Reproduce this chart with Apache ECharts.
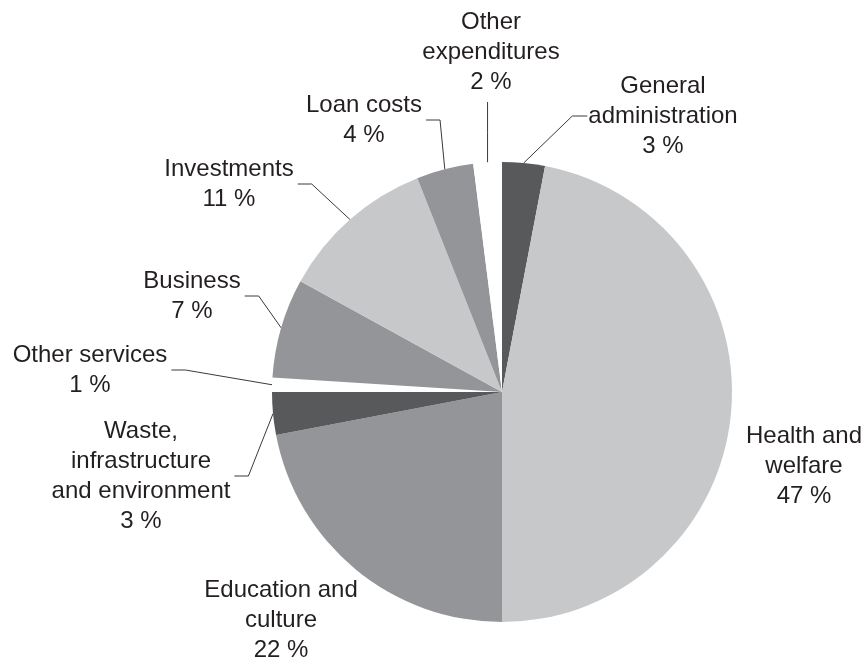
<!DOCTYPE html>
<html>
<head>
<meta charset="utf-8">
<script src="https://cdn.jsdelivr.net/npm/echarts@6/dist/echarts.min.js"></script>
<style>
  html, body { margin: 0; padding: 0; background: #ffffff; }
  #chart { width: 866px; height: 663px; }
</style>
</head>
<body>
<div id="chart"></div>
<script>
// Expenditure shares, clockwise from twelve o'clock
const categories = [
  'General\nadministration',
  'Health and\nwelfare',
  'Education and\nculture',
  'Waste,\ninfrastructure\nand environment',
  'Other services',
  'Business',
  'Investments',
  'Loan costs',
  'Other\nexpenditures'
];
const shares = [3, 47, 22, 3, 1, 7, 11, 4, 2];

// Grey fills per slice (two small slices are left white)
const sliceColors = [
  '#58595b', '#c7c8ca', '#939598', '#58595b', '#ffffff',
  '#939598', '#c7c8ca', '#939598', '#ffffff'
];

// Label box centres and which side of the box the leader line attaches to
const labelPlacement = [
  { x: 663, y: 116, side: 'right' },
  { x: 804, y: 466, side: null },
  { x: 281, y: 620, side: null },
  { x: 141, y: 476, side: 'left' },
  { x: 90,  y: 370, side: 'left' },
  { x: 192, y: 296, side: 'left' },
  { x: 229, y: 184, side: 'left' },
  { x: 364, y: 120, side: 'left' },
  { x: 491, y: 52,  side: 'top' }
];

const PIE_CENTER = [502, 392];
const PIE_RADIUS = 230;

const chart = echarts.init(document.getElementById('chart'), null, { renderer: 'canvas' });

const data = categories.map((name, i) => ({
  name: name,
  value: shares[i],
  itemStyle: { color: sliceColors[i] },
  labelLine: { show: labelPlacement[i].side !== null }
}));

// Point on the pie rim at the middle of slice i
function rimPoint(i) {
  const total = shares.reduce((a, b) => a + b, 0);
  let before = 0;
  for (let k = 0; k < i; k++) before += shares[k];
  const mid = (before + shares[i] / 2) / total * Math.PI * 2;
  return [PIE_CENTER[0] + PIE_RADIUS * Math.sin(mid), PIE_CENTER[1] - PIE_RADIUS * Math.cos(mid)];
}

chart.setOption({
  animation: false,
  backgroundColor: '#ffffff',
  series: [{
    type: 'pie',
    center: PIE_CENTER,
    radius: PIE_RADIUS,
    startAngle: 90,
    clockwise: true,
    avoidLabelOverlap: false,
    silent: true,
    emphasis: { disabled: true, scale: false },
    itemStyle: { borderWidth: 0 },
    label: {
      show: true,
      position: 'outside',
      formatter: '{b}\n{c} %',
      fontFamily: '"Liberation Sans", Arial, sans-serif',
      fontSize: 24,
      lineHeight: 30,
      color: '#231f20',
      align: 'center'
    },
    labelLine: {
      show: true,
      length: 10,
      length2: 10,
      smooth: false,
      lineStyle: { color: '#3a3a3a', width: 1 }
    },
    labelLayout: function (p) {
      const place = labelPlacement[p.dataIndex];
      const w = p.labelRect.width;
      const h = p.labelRect.height;
      const res = { x: place.x, y: place.y, align: 'center', verticalAlign: 'middle' };
      if (place.side) {
        const start = rimPoint(p.dataIndex);
        let end, knee;
        if (place.side === 'left') {
          end = [place.x + w / 2 + 4, place.y];
          knee = [end[0] + 14, place.y];
        } else if (place.side === 'right') {
          end = [place.x - w / 2 - 1, place.y];
          knee = [end[0] - 15, place.y];
        } else {
          end = [start[0], place.y + h / 2 + 5];
          knee = [start[0], (end[1] + start[1]) / 2];
        }
        res.labelLinePoints = [start, knee, end];
      }
      return res;
    },
    data: data
  }]
});
</script>
</body>
</html>
